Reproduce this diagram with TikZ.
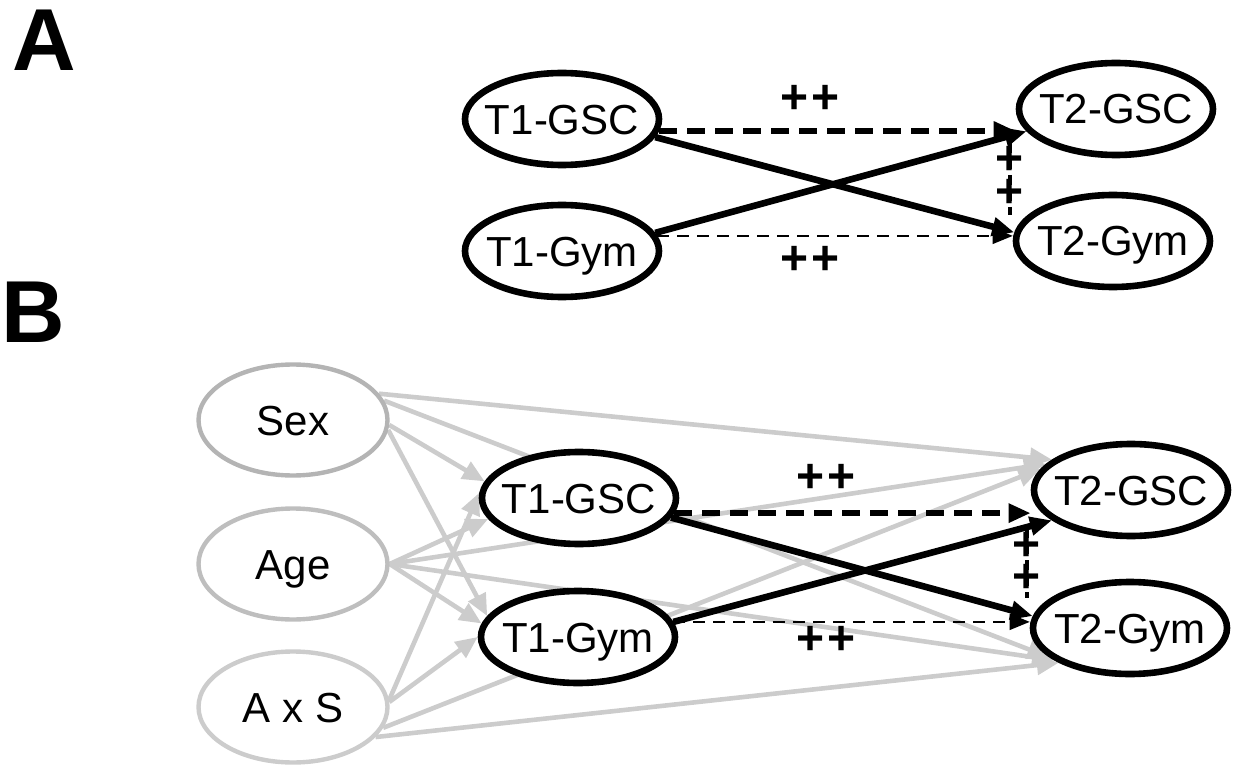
\documentclass[tikz,border=0pt]{standalone}
\usepackage{fontspec}
\setmainfont{Liberation Sans}
\usetikzlibrary{shapes.geometric,arrows.meta,calc}
\pgfdeclarelayer{bg}
\pgfsetlayers{bg,main}
\definecolor{sexgray}{HTML}{B4B4B4}
\definecolor{agegray}{HTML}{BEBEBE}
\definecolor{axsgray}{HTML}{CCCCCC}
\definecolor{arrgray}{HTML}{CCCCCC}
\newcommand{\zw}[1]{\makebox[0pt]{#1}}
\newcommand{\pp}{+\kern1.5pt+}
\tikzset{
  bnode/.style={ellipse, draw=black, line width=3.3pt, fill=white,
    minimum width=97pt, minimum height=46pt, inner sep=0pt,
    text height=15pt, text depth=0pt, font=\fontsize{21}{24}\selectfont},
  gnode/.style={ellipse, line width=2.2pt, fill=white,
    minimum width=94.5pt, minimum height=55.5pt, inner sep=0pt,
    text height=15pt, text depth=0pt, font=\fontsize{21}{24}\selectfont},
  garrow/.style={draw=arrgray, line width=2.3pt, -{Triangle[length=11pt,width=9.5pt]}},
  solidarrow/.style={line width=3.3pt, -{Triangle[length=11pt,width=9pt]}},
  thickdash/.style={line width=3pt, dash pattern=on 9pt off 5pt, -{Triangle[length=11pt,width=9pt]}},
  thindash/.style={line width=0.8pt, dash pattern=on 6pt off 4pt, -{Triangle[length=10pt,width=8pt]}},
  vdash/.style={line width=2pt, dash pattern=on 5pt off 3pt},
  pluslab/.style={font=\fontsize{24}{26}\selectfont\bfseries, inner sep=0pt,
    text height=8pt, text depth=0pt, anchor=base},
  panellab/.style={font=\fontsize{44}{48}\selectfont\bfseries, inner sep=0pt, anchor=base west},
}
\begin{document}
\begin{tikzpicture}[x=0.5pt,y=-0.5pt]
\useasboundingbox (0,0) rectangle (1238,765);

% panel labels
\node[panellab] (labA) at (12,71) {A};
\node[panellab] (labB) at (1,342) {B};

% ---------------- Panel A ----------------
\node[bnode] (t1gscA) at (562,119) {\zw{T1-GSC}};
\node[bnode] (t1gymA) at (562,251) {\zw{T1-Gym}};
\node[bnode] (t2gscA) at (1116,109) {\zw{T2-GSC}};
\node[bnode] (t2gymA) at (1113,241) {\zw{T2-Gym}};

\coordinate (vA1) at (1010,143);
\coordinate (vA2) at (1010,215);
\draw[vdash] (vA1) -- (vA2);

\draw[thickdash] (t1gscA.-7) -- (t1gscA.-7 -| t2gscA.west);
\draw[thindash] (t1gymA.9) -- (t1gymA.9 -| t2gymA.west);
\draw[solidarrow] (t1gscA.-11) -- (t2gymA.175);
\draw[solidarrow] (t1gymA.11) -- (t2gscA.194);

% labels placed by baseline (glyph centre is about 17px above it)
\node[pluslab] (ppA1) at (810,114) {\pp};
\node[pluslab] (ppA2) at (810,274) {\pp};
\node[pluslab] (pA1) at (1010,175) {+};
\node[pluslab] (pA2) at (1010,207) {+};

% ---------------- Panel B ----------------
\node[gnode, draw=sexgray] (sex) at (293,420) {\zw{Sex}};
\node[gnode, draw=agegray] (age) at (293,564) {\zw{Age}};
\node[gnode, draw=axsgray] (axs) at (293,707) {\zw{A x S}};

\node[bnode] (t1gscB) at (579,498) {\zw{T1-GSC}};
\node[bnode] (t1gymB) at (578,637) {\zw{T1-Gym}};
\node[bnode] (t2gscB) at (1131,490) {\zw{T2-GSC}};
\node[bnode] (t2gymB) at (1130,628) {\zw{T2-Gym}};

\begin{pgfonlayer}{bg}
\draw[garrow] (sex.17) -- (t2gscB.159);
\draw[garrow] (sex.12) -- (t2gymB.200);
\draw[garrow] (sex.-3) -- (t1gscB.170);
\draw[garrow] (sex.-6) -- (t1gymB.167);
\draw[garrow] (age.east) -- (t1gscB.193);
\draw[garrow] (age.east) -- (t2gscB.163);
\draw[garrow] (age.east) -- (t2gymB.203);
\draw[garrow] (age.east) -- (t1gymB.172);
\draw[garrow] (axs.4) -- (t1gscB.177);
\draw[garrow] (axs.3) -- (t1gymB.180);
\draw[garrow] (axs.-13) -- (t2gscB.167);
\draw[garrow] (axs.-20) -- (t2gymB.206);
\end{pgfonlayer}

\coordinate (vB1) at (1027,528);
\coordinate (vB2) at (1027,598);
\draw[vdash] (vB1) -- (vB2);

\draw[thickdash] (t1gscB.-9) -- (t1gscB.-9 -| t2gscB.west);
\draw[thindash] (t1gymB.9) -- (t1gymB.9 -| t2gymB.west);
\draw[solidarrow] (t1gscB.-12) -- (t2gymB.173);
\draw[solidarrow] (t1gymB.9) -- (t2gscB.201);

\node[pluslab] (ppB1) at (826,492) {\pp};
\node[pluslab] (ppB2) at (826,654) {\pp};
\node[pluslab] (pB1) at (1027,560) {+};
\node[pluslab] (pB2) at (1027,592) {+};
\end{tikzpicture}
\end{document}
